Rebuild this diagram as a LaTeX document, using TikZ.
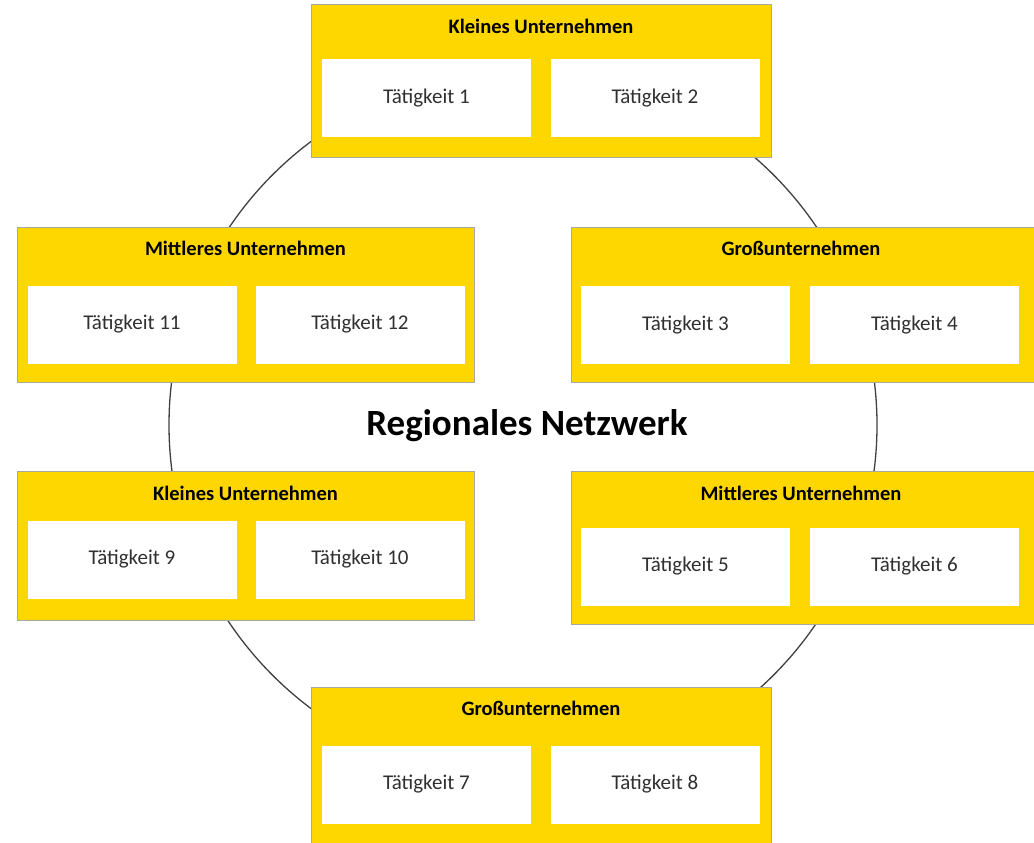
\documentclass[tikz,border=0pt]{standalone}
\usepackage{fontspec}
\setmainfont{Carlito}
\definecolor{boxyellow}{HTML}{FFD700}
\definecolor{boxedge}{HTML}{A8A8A0}
\definecolor{ringcol}{HTML}{404040}
\definecolor{txtgray}{HTML}{303030}
\tikzset{
  outerbox/.style={draw=boxedge, line width=1pt, fill=boxyellow, rectangle, inner sep=0pt},
  innerbox/.style={fill=white, rectangle, inner sep=0pt, minimum width=209pt, minimum height=78pt, font=\fontsize{21}{25}\selectfont, text=txtgray},
  boxtitle/.style={font=\bfseries\fontsize{20.5}{24}\selectfont, text=black, inner sep=0pt},
  ring/.style={draw=ringcol, line width=1.3pt, circle, inner sep=0pt, minimum size=708pt}
}
\begin{document}
\begin{tikzpicture}[x=1pt,y=-1pt]
\useasboundingbox (0,0) rectangle (1034,843);
\node[ring] (net) at (523,425) {};
\node[font=\bfseries\fontsize{37}{42}\selectfont, inner sep=0pt] (nettitle) at (527,426) {Regionales Netzwerk};

% top
\node[outerbox, minimum width=460pt, minimum height=152pt] (b1) at (541,81) {};
\node[boxtitle] (t1) at (541,26) {Kleines Unternehmen};
\node[innerbox] (a1) at (426.5,98) {Tätigkeit 1};
\node[innerbox] (a2) at (655,98) {Tätigkeit 2};

% right middle
\node[outerbox, minimum width=470pt, minimum height=155pt] (b2) at (806,304.5) {};
\node[boxtitle] (t2) at (801,248) {Großunternehmen};
\node[innerbox] (a3) at (685.5,325) {Tätigkeit 3};
\node[innerbox] (a4) at (914.5,325) {Tätigkeit 4};

% right bottom
\node[outerbox, minimum width=470pt, minimum height=153pt] (b3) at (806,547.5) {};
\node[boxtitle] (t3) at (801,493) {Mittleres Unternehmen};
\node[innerbox] (a5) at (685.5,566.5) {Tätigkeit 5};
\node[innerbox] (a6) at (914.5,566.5) {Tätigkeit 6};

% bottom
\node[outerbox, minimum width=460pt, minimum height=170pt] (b4) at (541,772) {};
\node[boxtitle] (t4) at (541,708) {Großunternehmen};
\node[innerbox] (a7) at (426.5,784.5) {Tätigkeit 7};
\node[innerbox] (a8) at (655,784.5) {Tätigkeit 8};

% left bottom
\node[outerbox, minimum width=457pt, minimum height=149pt] (b5) at (245.5,545.5) {};
\node[boxtitle] (t5) at (245.5,493) {Kleines Unternehmen};
\node[innerbox] (a9) at (132,559.5) {Tätigkeit 9};
\node[innerbox] (a10) at (360,559.5) {Tätigkeit 10};

% left middle
\node[outerbox, minimum width=457pt, minimum height=155pt] (b6) at (245.5,304.5) {};
\node[boxtitle] (t6) at (245.5,248) {Mittleres Unternehmen};
\node[innerbox] (a11) at (132,324.5) {Tätigkeit 11};
\node[innerbox] (a12) at (360,324.5) {Tätigkeit 12};
\end{tikzpicture}
\end{document}
